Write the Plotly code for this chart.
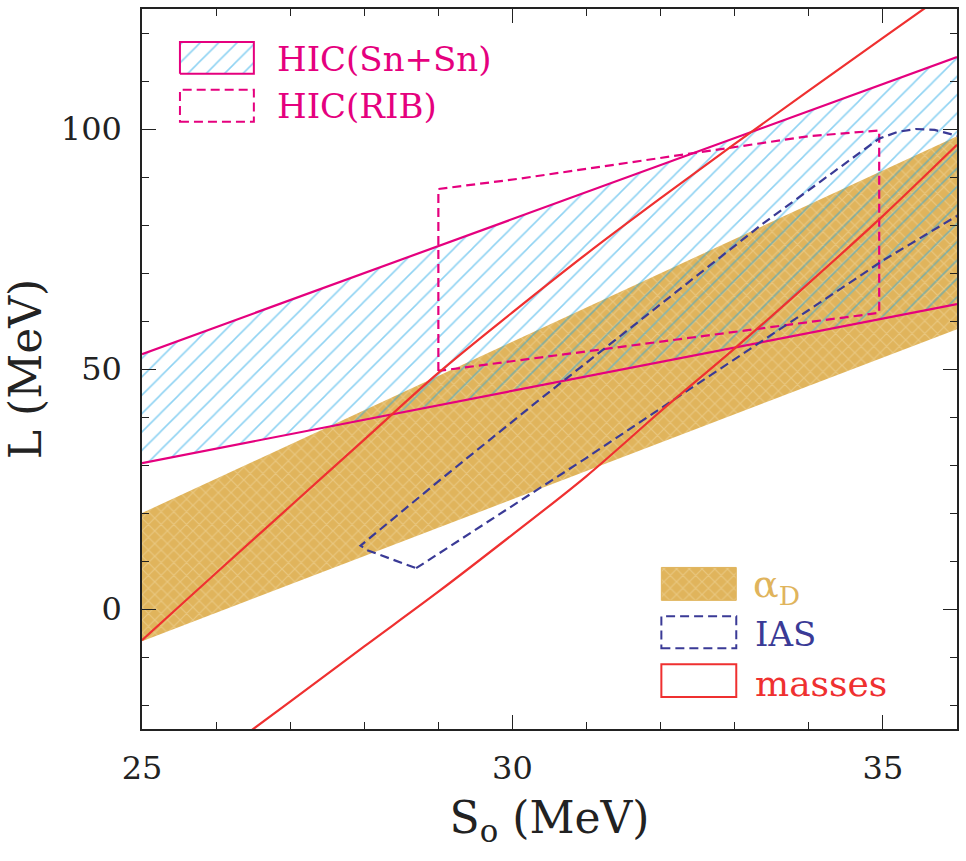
import plotly.graph_objects as go

# ---------------- data ----------------
# HIC(Sn+Sn) band
hic_x = [25, 30, 36]
hic_upper = [53.1, 81.2, 115.0]
hic_lower = [30.4, 45.5, 63.5]

# alpha_D band
ad_x = [25, 36]
ad_upper = [20.0, 98.5]
ad_lower = [-6.7, 58.3]

# masses (two boundary curves)
m1_x = [25, 26, 27, 28, 29, 30, 31, 32, 33, 34, 35, 36]
m1_y = [-6.5, 7.5, 21.4, 35.3, 49.2, 61.8, 74.0, 85.6, 96.9, 108.0, 119.0, 129.9]
m2_x = [26.3, 27, 28, 29, 30, 31, 32, 33, 34, 35, 36]
m2_y = [-27.3, -19.3, -7.8, 3.6, 15.5, 27.7, 41.2, 54.3, 67.9, 81.9, 96.7]

# HIC(RIB) contour
rib_x = [29.0, 29.0, 30.07, 32.0, 34.0, 34.95, 34.95, 29.0]
rib_y = [49.6, 87.5, 89.6, 94.0, 98.5, 99.7, 61.7, 49.6]

# IAS contour
ias_x = [28.7, 30.0, 31.0, 32.0, 33.0, 34.0, 35.0, 36.0, 36.4, 36.4, 36.0, 35.7,
         35.44, 35.2, 34.95, 34.3, 33.39, 32.0, 30.34, 29.0, 28.1, 27.95, 28.05, 28.7]
ias_y = [8.5, 21.5, 31.5, 41.8, 52.0, 62.3, 72.6, 81.9, 86.0, 97.0, 98.6, 99.8,
         100.0, 99.4, 98.0, 90.7, 80.4, 63.5, 43.3, 26.6, 15.0, 13.2, 12.2, 8.5]

x_ticks = [25, 30, 35]
y_ticks = [0, 50, 100]

# ---------------- styles ----------------
MAG = "#e5007e"
RED = "#ef3030"
NAVY = "#3a3a96"
GOLD = "#e0b45c"
BLUE = "#1ea6e6"
FONT = "DejaVu Serif"

XR = [25, 36]
YR = [-25, 125]


def px2d(px, py):
    # paper -> data coordinates
    return XR[0] + px * (XR[1] - XR[0]), YR[0] + py * (YR[1] - YR[0])


def rect_pts(x0, y0, x1, y1):
    a = px2d(x0, y0)
    b = px2d(x1, y1)
    return [a[0], b[0], b[0], a[0], a[0]], [a[1], a[1], b[1], b[1], a[1]]


HIC_PAT = dict(shape="/", fgcolor=BLUE, bgcolor="rgba(0,0,0,0)", size=13, solidity=0.12)
AD_PAT = dict(shape="x", fgcolor="#f1d9a3", bgcolor=GOLD, size=9, solidity=0.25)

fig = go.Figure()

# alpha_D band
fig.add_trace(go.Scatter(
    x=ad_x + ad_x[::-1], y=ad_upper + ad_lower[::-1], fill="toself", mode="lines",
    line=dict(width=0, color=GOLD), fillcolor=GOLD, fillpattern=AD_PAT,
    hoverinfo="skip", showlegend=False))

# HIC(Sn+Sn) band hatch
fig.add_trace(go.Scatter(
    x=hic_x + hic_x[::-1], y=hic_upper + hic_lower[::-1], fill="toself", mode="lines",
    line=dict(width=0, color=BLUE), fillcolor="rgba(0,0,0,0)", fillpattern=HIC_PAT,
    hoverinfo="skip", showlegend=False))
for yy in (hic_upper, hic_lower):
    fig.add_trace(go.Scatter(x=hic_x, y=yy, mode="lines", line=dict(color=MAG, width=2.2),
                             hoverinfo="skip", showlegend=False))

# HIC(RIB)
fig.add_trace(go.Scatter(x=rib_x, y=rib_y, mode="lines",
                         line=dict(color=MAG, width=2.2, dash="9px,5px"),
                         hoverinfo="skip", showlegend=False))

# IAS
fig.add_trace(go.Scatter(x=ias_x, y=ias_y, mode="lines",
                         line=dict(color=NAVY, width=2.2, dash="9px,5px"),
                         hoverinfo="skip", showlegend=False))

# masses
for xx, yy in ((m1_x, m1_y), (m2_x, m2_y)):
    fig.add_trace(go.Scatter(x=xx, y=yy, mode="lines", line=dict(color=RED, width=2.2),
                             line_shape="spline", hoverinfo="skip", showlegend=False))

# ---------------- legend swatches ----------------
W, H = 816.0, 722.0


def pp(x, y):
    return (x - 142) / W, (729 - y) / H


# HIC(Sn+Sn) swatch (patterned)
a = pp(180, 72); b = pp(254, 40)
sx, sy = rect_pts(a[0], a[1], b[0], b[1])
fig.add_trace(go.Scatter(x=sx, y=sy, fill="toself", mode="lines", line=dict(color=MAG, width=2),
                         fillcolor="rgba(0,0,0,0)", fillpattern=HIC_PAT,
                         hoverinfo="skip", showlegend=False))
# alpha_D swatch
a = pp(662, 600); b = pp(737, 567)
sx, sy = rect_pts(a[0], a[1], b[0], b[1])
fig.add_trace(go.Scatter(x=sx, y=sy, fill="toself", mode="lines", line=dict(color=GOLD, width=1),
                         fillcolor=GOLD, fillpattern=AD_PAT,
                         hoverinfo="skip", showlegend=False))

shapes = []
a = pp(180, 120); b = pp(254, 88)
shapes.append(dict(type="rect", xref="paper", yref="paper", x0=a[0], y0=a[1], x1=b[0], y1=b[1],
                   line=dict(color=MAG, width=2, dash="9px,5px")))
a = pp(662, 648); b = pp(737, 616)
shapes.append(dict(type="rect", xref="paper", yref="paper", x0=a[0], y0=a[1], x1=b[0], y1=b[1],
                   line=dict(color=NAVY, width=2, dash="9px,5px")))
a = pp(662, 697); b = pp(737, 664)
shapes.append(dict(type="rect", xref="paper", yref="paper", x0=a[0], y0=a[1], x1=b[0], y1=b[1],
                   line=dict(color=RED, width=2)))

annotations = []


def label(text, px, py, color, size=34):
    x, y = pp(px, py)
    annotations.append(dict(text=text, x=x, y=y, xref="paper", yref="paper", xanchor="left",
                            yanchor="middle", showarrow=False,
                            font=dict(family=FONT, size=size, color=color)))


label("HIC(Sn+Sn)", 275, 57, MAG)
label("HIC(RIB)", 275, 104, MAG)
label("α<sub>D</sub>", 752, 586, GOLD, 38)
label("IAS", 754, 634, NAVY)
label("masses", 754, 683, RED, 36)

axis_common = dict(
    showline=True, linecolor="#222", linewidth=1.5, mirror="allticks",
    ticks="inside", ticklen=14, tickwidth=1.3, tickcolor="#222",
    showgrid=False, zeroline=False,
    tickfont=dict(family=FONT, size=32, color="#222"),
)

fig.update_layout(
    width=966, height=861,
    margin=dict(l=142, r=8, t=7, b=132),
    paper_bgcolor="white", plot_bgcolor="white",
    shapes=shapes, annotations=annotations,
    xaxis=dict(range=XR, tickvals=x_ticks, ticklabelstandoff=10,
               minor=dict(dtick=1, ticks="inside", ticklen=7, tickcolor="#222", tickwidth=1.2),
               title=dict(text="S<sub>o</sub> (MeV)", font=dict(family=FONT, size=44, color="#222"),
                          standoff=16),
               **axis_common),
    yaxis=dict(range=YR, tickvals=y_ticks, ticklabelstandoff=12,
               minor=dict(dtick=10, ticks="inside", ticklen=7, tickcolor="#222", tickwidth=1.2),
               title=dict(text="L (MeV)", font=dict(family=FONT, size=44, color="#222"),
                          standoff=18),
               **axis_common),
)

fig.write_html("out.html")
